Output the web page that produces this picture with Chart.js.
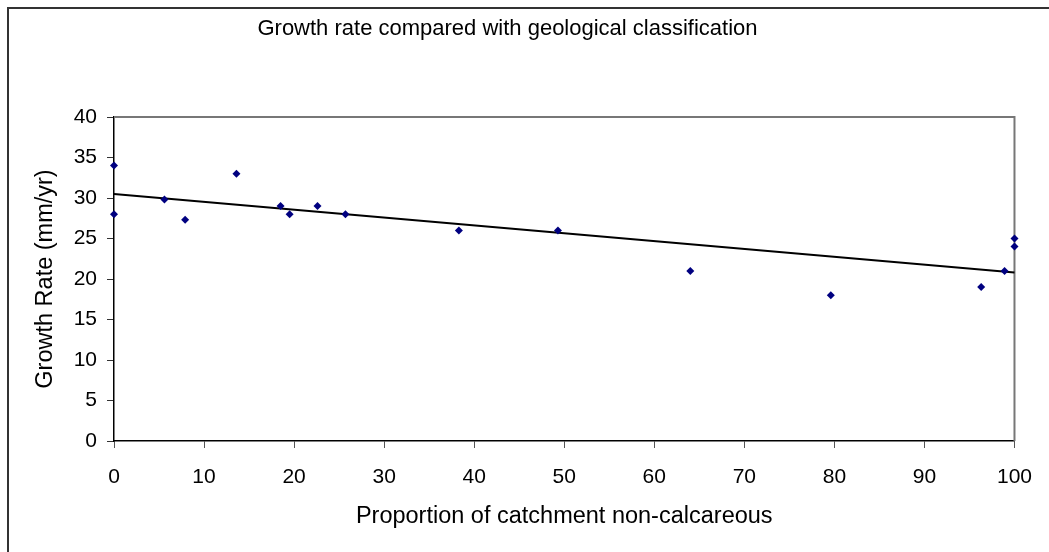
<!DOCTYPE html>
<html>
<head>
<meta charset="utf-8">
<script src="https://cdn.jsdelivr.net/npm/chart.js@4.4.0/dist/chart.umd.min.js"></script>
<style>
  body { margin: 0; background: #fff; }
  #wrap { width: 1049px; height: 552px; }
</style>
</head>
<body>
<div id="wrap"><canvas id="grafico" width="1049" height="552"></canvas></div>
<script>
// valores
const proporcion = [0, 0, 5.6, 7.9, 13.6, 18.5, 19.5, 22.6, 25.7, 38.3, 49.3, 64.0, 79.6, 96.3, 98.9, 100, 100];
const crecimiento = [34, 28, 29.8, 27.3, 33, 29, 28, 29, 28, 26, 26, 21, 18, 19, 21, 25, 24];
// linea de tendencia (extremos leidos)
const tendenciaX = [0, 100];
const tendenciaY = [30.5, 20.8];

const puntos = proporcion.map((x, i) => ({ x: x, y: crecimiento[i] }));
const tendencia = tendenciaX.map((x, i) => ({ x: x, y: tendenciaY[i] }));

const fuente = 'Arial, "Liberation Sans", sans-serif';

// marco exterior y borde del area de trazado
const marcos = {
  id: 'marcos',
  beforeDatasetsDraw(chart) {
    const { ctx, chartArea: a } = chart;
    ctx.save();
    ctx.strokeStyle = '#777';
    ctx.lineWidth = 2;
    ctx.beginPath();
    ctx.moveTo(a.left, a.top);
    ctx.lineTo(a.right, a.top);
    ctx.lineTo(a.right, a.bottom);
    ctx.stroke();
    ctx.restore();
  },
  afterDraw(chart) {
    const { ctx, width, height } = chart;
    ctx.save();
    ctx.strokeStyle = '#333';
    ctx.lineWidth = 2;
    ctx.beginPath();
    ctx.moveTo(8, height);
    ctx.lineTo(8, 8);
    ctx.lineTo(width, 8);
    ctx.stroke();
    ctx.restore();
  }
};

new Chart(document.getElementById('grafico').getContext('2d'), {
  type: 'scatter',
  data: {
    datasets: [
      {
        label: 'Growth rate',
        data: puntos,
        pointStyle: 'rectRot',
        pointRadius: 4,
        pointBackgroundColor: '#000080',
        pointBorderWidth: 0,
        clip: false,
        order: 1
      },
      {
        label: 'Trend',
        type: 'line',
        data: tendencia,
        borderColor: '#000',
        borderWidth: 2,
        pointRadius: 0,
        fill: false,
        clip: false,
        order: 2
      }
    ]
  },
  options: {
    responsive: false,
    animation: false,
    devicePixelRatio: 1,
    layout: { padding: { left: 0, right: 34, top: 0, bottom: 0 } },
    plugins: {
      legend: { display: false },
      tooltip: { enabled: false },
      title: {
        display: true,
        text: 'Growth rate compared with geological classification',
        color: '#000',
        font: { family: fuente, size: 22, weight: 'normal' },
        padding: { top: 16, bottom: 74.6 }
      }
    },
    scales: {
      x: {
        type: 'linear',
        min: 0,
        max: 100,
        afterFit: (s) => { s.height = 111; },
        ticks: { stepSize: 10, color: '#000', padding: 17, font: { family: fuente, size: 21 } },
        grid: { drawOnChartArea: false, drawTicks: true, tickLength: 7, color: '#555' },
        border: { color: '#000', width: 1.5 },
        title: {
          display: true,
          text: 'Proportion of catchment non-calcareous',
          color: '#000',
          font: { family: fuente, size: 23.5 },
          padding: { top: 0, bottom: 21 }
        }
      },
      y: {
        min: 0,
        max: 40,
        afterFit: (s) => { s.width = 114; },
        ticks: { stepSize: 5, color: '#000', padding: 10, font: { family: fuente, size: 21 } },
        grid: { drawOnChartArea: false, drawTicks: true, tickLength: 7, color: '#333' },
        border: { color: '#000', width: 1.5 },
        title: {
          display: true,
          text: 'Growth Rate (mm/yr)',
          color: '#000',
          font: { family: fuente, size: 23.5 },
          padding: { top: 31, bottom: 0 }
        }
      }
    }
  },
  plugins: [marcos]
});
</script>
</body>
</html>
